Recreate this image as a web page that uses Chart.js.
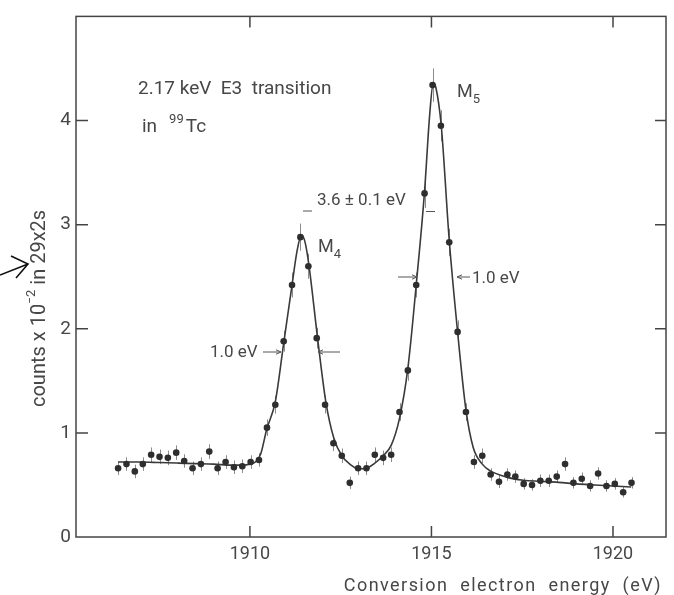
<!DOCTYPE html>
<html>
<head>
<meta charset="utf-8">
<script src="https://cdn.jsdelivr.net/npm/chart.js@4.4.0/dist/chart.umd.min.js"></script>
<style>
body{margin:0;background:#fff;}
canvas{display:block;}
</style>
</head>
<body>
<canvas id="myChart" width="674" height="595"></canvas>
<script>

/*measured points, conversion electron energy (eV) and counts x 10^-2*/
var energy = [1906.37,1906.60,1906.83,1907.05,1907.28,1907.51,1907.74,1907.97,1908.19,1908.42,
  1908.65,1908.88,1909.11,1909.33,1909.56,1909.79,1910.02,1910.25,1910.47,1910.70,
  1910.93,1911.16,1911.39,1911.61,1911.84,1912.07,1912.30,1912.53,1912.75,1912.98,
  1913.21,1913.44,1913.67,1913.89,1914.12,1914.35,1914.58,1914.81,1915.03,1915.26,
  1915.49,1915.72,1915.95,1916.17,1916.40,1916.63,1916.86,1917.09,1917.31,1917.54,
  1917.77,1918.00,1918.23,1918.45,1918.68,1918.91,1919.14,1919.37,1919.59,1919.82,
  1920.05,1920.28,1920.51];
var counts = [0.66,0.70,0.63,0.70,0.79,0.77,0.76,0.81,0.73,0.66,
  0.70,0.82,0.66,0.72,0.67,0.68,0.72,0.74,1.05,1.27,
  1.88,2.42,2.88,2.60,1.91,1.27,0.90,0.78,0.52,0.66,
  0.66,0.79,0.76,0.79,1.20,1.60,2.42,3.30,4.34,3.95,
  2.83,1.97,1.20,0.72,0.78,0.60,0.53,0.60,0.58,0.51,
  0.50,0.54,0.54,0.58,0.70,0.52,0.56,0.49,0.61,0.49,
  0.51,0.43,0.52];
var errs = [0.065,0.065,0.065,0.065,0.07,0.07,0.07,0.07,0.065,0.065,
  0.065,0.07,0.065,0.065,0.065,0.065,0.065,0.065,0.08,0.085,
  0.10,0.12,0.13,0.12,0.10,0.085,0.075,0.07,0.06,0.065,
  0.065,0.07,0.07,0.07,0.085,0.10,0.12,0.14,0.16,0.15,
  0.13,0.11,0.085,0.065,0.07,0.06,0.06,0.06,0.06,0.055,
  0.055,0.06,0.06,0.06,0.065,0.055,0.06,0.055,0.06,0.055,
  0.055,0.05,0.055];

/*fitted curve*/
var fitX = [1906.37,1907.0,1907.5,1908.0,1908.5,1909.0,1909.5,1909.8,1910.0,1910.15,
  1910.3,1910.46,1910.70,1910.93,1911.16,1911.30,1911.42,1911.52,1911.63,1911.86,
  1912.09,1912.31,1912.53,1912.75,1913.0,1913.2,1913.44,1913.67,1913.89,1914.12,
  1914.35,1914.58,1914.81,1914.95,1915.05,1915.12,1915.27,1915.49,1915.72,1915.95,
  1916.15,1916.4,1916.6,1917.07,1917.53,1918.0,1918.5,1919.0,1919.5,1920.0,1920.5];
var fitY = [0.72,0.72,0.715,0.71,0.705,0.70,0.69,0.69,0.70,0.72,
  0.80,1.03,1.30,1.86,2.42,2.75,2.90,2.83,2.60,1.92,
  1.30,0.95,0.78,0.70,0.655,0.66,0.71,0.78,0.88,1.14,
  1.62,2.42,3.32,4.05,4.36,4.32,3.95,2.85,1.97,1.22,
  0.86,0.70,0.64,0.575,0.545,0.535,0.525,0.51,0.50,0.49,0.48];

var xTicks = [1910, 1915, 1920];
var yTicks = [0, 1, 2, 3, 4];

var FONT = 'Roboto';
var TXT = '#474747';
var INK = '#3a3a3a';

function combine(xs, ys){
  var out = [];
  for (var i = 0; i < xs.length; i++){
    out.push({x: xs[i], y: ys[i]});
  }
  return out
}

/*draws a word with a small raised or lowered part*/
function scriptText(ctx, x, y, parts){
  for (var i = 0; i < parts.length; i++){
    var p = parts[i];
    ctx.font = p.size + 'px ' + FONT;
    ctx.fillText(p.t, x, y + (p.dy || 0));
    x += ctx.measureText(p.t).width + (p.gap || 0);
  }
  return x
}

function hArrow(ctx, x1, x2, y, tip){
  ctx.beginPath();
  ctx.moveTo(x1, y); ctx.lineTo(x2, y);
  var d = tip == x2 ? -5 : 5;
  ctx.moveTo(tip + d, y - 2.2); ctx.lineTo(tip, y); ctx.lineTo(tip + d, y + 2.2);
  ctx.stroke();
}

var extras = {
  id: 'extras',
  beforeDatasetsDraw: function(chart){
    var ctx = chart.ctx, xs = chart.scales.x, ys = chart.scales.y;
    ctx.save();
    ctx.strokeStyle = '#8c8c8c';
    ctx.lineWidth = 1;
    for (var i = 0; i < energy.length; i++){
      var px = Math.round(xs.getPixelForValue(energy[i])) + 0.5;
      ctx.beginPath();
      ctx.moveTo(px, ys.getPixelForValue(counts[i] - errs[i]));
      ctx.lineTo(px, ys.getPixelForValue(counts[i] + errs[i]));
      ctx.stroke();
    }
    ctx.restore();
  },
  afterDraw: function(chart){
    var ctx = chart.ctx, a = chart.chartArea, xs = chart.scales.x, ys = chart.scales.y;
    ctx.save();

    /*frame with inward ticks on all sides*/
    ctx.strokeStyle = '#444';
    ctx.lineWidth = 1.5;
    ctx.strokeRect(a.left, a.top, a.right - a.left, a.bottom - a.top);
    ctx.beginPath();
    xTicks.forEach(function(v){
      var px = xs.getPixelForValue(v);
      ctx.moveTo(px, a.bottom); ctx.lineTo(px, a.bottom - 11);
      ctx.moveTo(px, a.top); ctx.lineTo(px, a.top + 11);
    });
    yTicks.forEach(function(v){
      if (v == 0) return;
      var py = ys.getPixelForValue(v);
      ctx.moveTo(a.left, py); ctx.lineTo(a.left + 12, py);
      ctx.moveTo(a.right, py); ctx.lineTo(a.right - 11, py);
    });
    ctx.stroke();

    /*text labels*/
    ctx.fillStyle = TXT;
    ctx.textBaseline = 'alphabetic';
    ctx.textAlign = 'left';
    ctx.font = '19px ' + FONT;
    ctx.fillText('2.17 keV  E3  transition', 138, 94);
    var nx = scriptText(ctx, 142, 132, [{t: 'in', size: 19, gap: 12}]);
    nx = scriptText(ctx, nx, 132, [{t: '99', size: 13, dy: -9, gap: 2}, {t: 'Tc', size: 19}]);

    scriptText(ctx, 457, 97, [{t: 'M', size: 18}, {t: '5', size: 13, dy: 6}]);
    scriptText(ctx, 318, 252, [{t: 'M', size: 18}, {t: '4', size: 13, dy: 6}]);

    ctx.font = '17px ' + FONT;
    ctx.fillText('3.6 \u00b1 0.1 eV', 317, 205);
    ctx.fillText('1.0 eV', 210, 357);
    ctx.fillText('1.0 eV', 472, 283);

    /*half width arrows and peak markers*/
    ctx.strokeStyle = '#555';
    ctx.lineWidth = 1;
    hArrow(ctx, 263, 281, 352, 281);
    hArrow(ctx, 318, 340, 352, 318);
    hArrow(ctx, 398, 417, 277, 417);
    hArrow(ctx, 457, 470, 277, 457);
    ctx.beginPath();
    ctx.moveTo(303, 211); ctx.lineTo(312, 211);
    ctx.moveTo(426, 211.5); ctx.lineTo(435, 211.5);
    ctx.stroke();

    /*axis titles*/
    ctx.font = '18px ' + FONT;
    ctx.textAlign = 'right';
    ctx.letterSpacing = '1.45px';
    ctx.fillText('Conversion  electron  energy  (eV)', 662, 591);
    ctx.letterSpacing = '0px';
    ctx.textAlign = 'left';

    ctx.translate(45, 407);
    ctx.rotate(-Math.PI / 2);
    var tx = scriptText(ctx, 0, 0, [{t: 'counts x 10', size: 20}]);
    tx = scriptText(ctx, tx, 0, [{t: '\u2212', size: 12, dy: -11}, {t: '2', size: 13, dy: -10, gap: 5}]);
    scriptText(ctx, tx, 0, [{t: 'in 29x2s', size: 20}]);
    ctx.setTransform(1, 0, 0, 1, 0, 0);

    /*hand drawn arrow pointing at the title*/
    ctx.strokeStyle = '#111';
    ctx.lineWidth = 1.6;
    ctx.beginPath();
    ctx.moveTo(0, 275); ctx.lineTo(28, 264);
    ctx.moveTo(11, 256); ctx.lineTo(28, 264); ctx.lineTo(16, 278);
    ctx.stroke();

    ctx.restore();
  }
};

var ctx = document.getElementById('myChart').getContext('2d');
var myChart = new Chart(ctx, {
  type: 'scatter',
  data: {
    datasets: [{
      label: 'measured',
      data: combine(energy, counts),
      pointRadius: 3.3,
      pointBackgroundColor: '#2e2e2e',
      pointBorderWidth: 0,
      showLine: false
    }, {
      label: 'fit',
      data: combine(fitX, fitY),
      showLine: true,
      borderColor: INK,
      borderWidth: 1.6,
      pointRadius: 0,
      cubicInterpolationMode: 'monotone'
    }]
  },
  options: {
    responsive: false,
    animation: false,
    devicePixelRatio: 1,
    layout: {padding: {top: 9, right: 8, left: 0, bottom: 0}},
    plugins: {
      legend: {display: false},
      tooltip: {enabled: false}
    },
    scales: {
      x: {
        type: 'linear',
        min: 1905.21,
        max: 1921.46,
        afterBuildTicks: function(s){ s.ticks = xTicks.map(function(v){ return {value: v}; }); },
        afterFit: function(s){ s.height = 58; },
        grid: {display: false, drawTicks: false},
        border: {display: false},
        ticks: {padding: 7, color: TXT, font: {family: FONT, size: 18},
          callback: function(v){ return String(v); }}
      },
      y: {
        min: 0,
        max: 5,
        afterBuildTicks: function(s){ s.ticks = yTicks.map(function(v){ return {value: v}; }); },
        afterFit: function(s){ s.width = 76; },
        grid: {display: false, drawTicks: false},
        border: {display: false},
        ticks: {padding: 5, color: TXT, font: {family: FONT, size: 19}}
      }
    }
  },
  plugins: [extras]
});

</script>
</body>
</html>
